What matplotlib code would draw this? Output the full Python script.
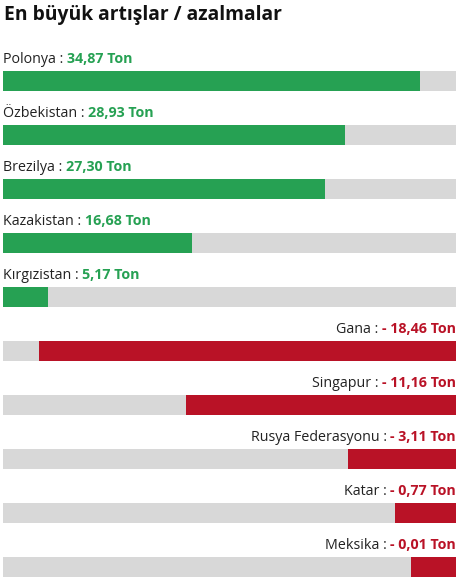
import matplotlib as mpl
mpl.use('Agg')
import matplotlib.pyplot as plt

title = 'En büyük artışlar / azalmalar'
increase_names = ['Polonya', 'Özbekistan', 'Brezilya', 'Kazakistan', 'Kırgızistan']
increase_values = [34.87, 28.93, 27.30, 16.68, 5.17]
decrease_names = ['Gana', 'Singapur', 'Rusya Federasyonu', 'Katar', 'Meksika']
decrease_values = [-18.46, -11.16, -3.11, -0.77, -0.01]

GREEN = '#26a153'
RED = '#b91226'
GREY = '#d8d8d8'
TEXT = '#222222'

plt.rcParams['font.family'] = ['Open Sans', 'DejaVu Sans']


def scale(values):
    # bar fill: min value gets a 10% stub, max value ~92%
    mags = [abs(v) for v in values]
    lo, hi = min(mags), max(mags)
    return [0.1 + 0.82 * (m - lo) / (hi - lo) for m in mags]


def fmt(v):
    s = f'{abs(v):.2f}'.replace('.', ',')
    return ('- ' if v < 0 else '') + s + ' Ton'


W, H = 468, 584
fig = plt.figure(figsize=(W / 100, H / 100), dpi=100)
ax = fig.add_axes([3 / W, 0, 453 / W, 1])
ax.set_xlim(0, 1)
ax.set_ylim((H - 81) / 54, -81 / 54)
ax.axis('off')

bar_h = 20 / 54
label_y = -18 / 54

fig.text(3.5 / W, 1 - 20 / H, title, fontsize=13.9, fontweight='bold',
         color='#111111', va='baseline', ha='left')

inc_len = scale(increase_values)
for i, (name, v, f) in enumerate(zip(increase_names, increase_values, inc_len)):
    ax.barh(i, 1, height=bar_h, color=GREY, left=0)
    ax.barh(i, f, height=bar_h, color=GREEN, left=0)
    t1 = ax.text(0, i + label_y, name + ' : ', fontsize=10.3, color=TEXT,
                 ha='left', va='baseline')
    ax.annotate(fmt(v), xy=(1, i + label_y), xycoords=(t1, 'data'),
                ha='left', va='baseline',
                fontsize=10.3, fontweight='bold', color=GREEN)

dec_len = scale(decrease_values)
for j, (name, v, f) in enumerate(zip(decrease_names, decrease_values, dec_len)):
    i = j + len(increase_names)
    ax.barh(i, 1, height=bar_h, color=GREY, left=0)
    ax.barh(i, f, height=bar_h, color=RED, left=1 - f)
    t2 = ax.text(1, i + label_y, fmt(v), fontsize=10.3, fontweight='bold',
                 color=RED, ha='right', va='baseline')
    ax.annotate(name + ' : ', xy=(0, i + label_y), xycoords=(t2, 'data'),
                ha='right', va='baseline', fontsize=10.3, color=TEXT)

fig.savefig('out.png', dpi=100)
